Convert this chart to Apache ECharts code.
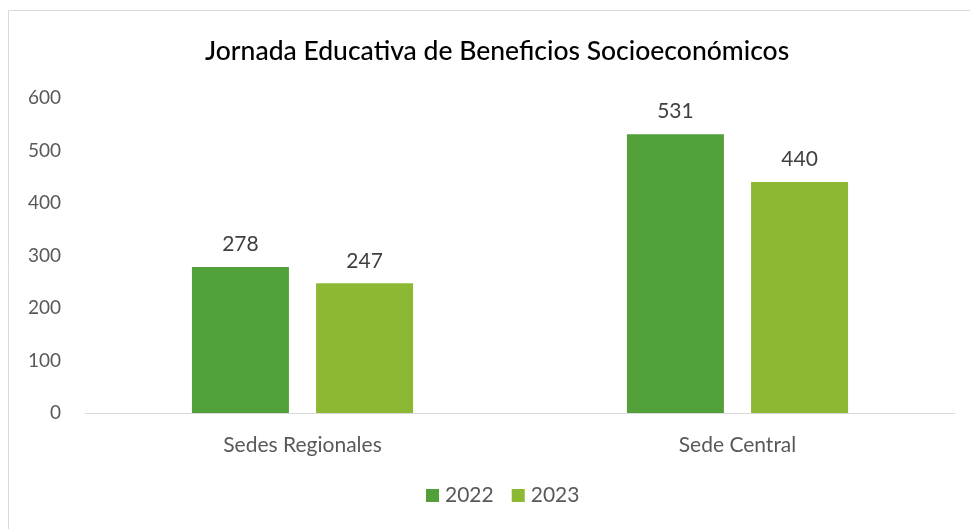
<!DOCTYPE html>
<html>
<head>
<meta charset="utf-8">
<script src="https://cdn.jsdelivr.net/npm/echarts@6/dist/echarts.min.js"></script>
<style>
  html, body { margin: 0; padding: 0; background: #fff; }
  #chart { width: 970px; height: 529px; }
</style>
</head>
<body>
<div id="chart"></div>
<script>
const categories = ['Sedes Regionales', 'Sede Central'];
const years = ['2022', '2023'];
const values2022 = [278, 531];
const values2023 = [247, 440];
const colors = ['#52a03a', '#8cb833'];

const font = 'Lato, "Open Sans", sans-serif';
const chart = echarts.init(document.getElementById('chart'));

const labelStyle = {
  show: true,
  position: 'top',
  distance: 12,
  color: '#404040',
  fontSize: 21,
  fontFamily: font
};

chart.setOption({
  animation: false,
  textStyle: { fontFamily: font },
  graphic: [{
    type: 'rect',
    shape: { x: 8.5, y: 10.5, width: 1000, height: 600 },
    style: { fill: 'none', stroke: '#d9d9d9', lineWidth: 1 },
    silent: true
  }],
  title: {
    text: 'Jornada Educativa de Beneficios Socioeconómicos',
    left: 200,
    top: 33,
    textStyle: { color: '#000', fontSize: 26.5, fontWeight: 500, fontFamily: font }
  },
  legend: {
    data: years,
    bottom: 18,
    left: 421,
    itemWidth: 13,
    itemHeight: 13,
    itemGap: 18,
    icon: 'rect',
    textStyle: { color: '#595959', fontSize: 21, fontFamily: font, padding: [0, 0, 0, 1] }
  },
  grid: { left: 85, right: 15, top: 98, bottom: 116 },
  xAxis: {
    type: 'category',
    data: categories,
    axisLine: { lineStyle: { color: '#d9d9d9' } },
    axisTick: { show: false },
    axisLabel: { color: '#595959', fontSize: 21, margin: 22, fontFamily: font }
  },
  yAxis: {
    type: 'value',
    min: 0,
    max: 600,
    interval: 100,
    axisLine: { show: false },
    axisTick: { show: false },
    splitLine: { show: false },
    axisLabel: { color: '#595959', fontSize: 19, margin: 24, fontFamily: font }
  },
  series: [
    {
      name: years[0],
      type: 'bar',
      data: values2022,
      barWidth: 97,
      barGap: '28%',
      itemStyle: { color: colors[0] },
      label: labelStyle
    },
    {
      name: years[1],
      type: 'bar',
      data: values2023,
      barWidth: 97,
      itemStyle: { color: colors[1] },
      label: labelStyle
    }
  ]
});
</script>
</body>
</html>
